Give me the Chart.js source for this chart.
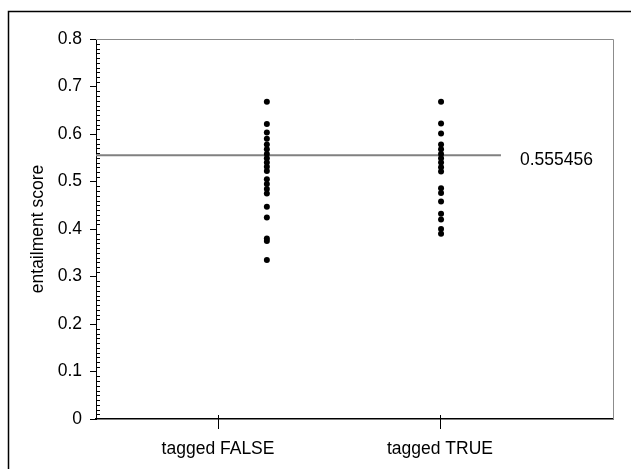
<!DOCTYPE html>
<html>
<head>
<meta charset="utf-8">
<script src="https://cdn.jsdelivr.net/npm/chart.js@4/dist/chart.umd.min.js"></script>
<style>
  html, body { margin: 0; padding: 0; background: #fff; overflow: hidden; }
  #wrap { width: 631px; height: 469px; position: relative; }
</style>
</head>
<body>
<div id="wrap"><canvas id="c" width="631" height="469"></canvas></div>
<script>
// Entailment scores, one column of points per tag value
const categories = ['tagged FALSE', 'tagged TRUE'];
const falseScores = [0.668, 0.621, 0.603, 0.590, 0.578, 0.568, 0.558, 0.549, 0.540, 0.531,
                     0.522, 0.505, 0.495, 0.484, 0.475, 0.447, 0.424, 0.380, 0.375, 0.335];
const trueScores = [0.668, 0.622, 0.601, 0.578, 0.568, 0.558, 0.549, 0.540, 0.530, 0.521,
                    0.486, 0.476, 0.458, 0.432, 0.420, 0.400, 0.390];
const meanScore = 0.555456;
const yTicks = [0, 0.1, 0.2, 0.3, 0.4, 0.5, 0.6, 0.7, 0.8];
const yTitle = 'entailment score';

const FONT = { family: '"Liberation Sans", Arial, sans-serif', size: 17.5 };
const FONT_CSS = '17.5px "Liberation Sans", Arial, sans-serif';

// x placement on the linear category axis (tick 1 = FALSE, tick 2 = TRUE)
const xMin = 0.45, xMax = 2.78;
const columnX = [1.22, 2.005];
const meanLineEnd = 2.275;

// Frame, minor ticks, category ticks and the mean label
const decorations = {
  id: 'decorations',
  afterDraw(chart) {
    const { ctx, chartArea: a, scales: { x, y } } = chart;
    ctx.save();
    // plot area border (top and right)
    ctx.strokeStyle = '#8c8c8c';
    ctx.lineWidth = 1;
    ctx.beginPath();
    ctx.moveTo(a.left, a.top + 0.5);
    ctx.lineTo(a.right + 0.5, a.top + 0.5);
    ctx.lineTo(a.right + 0.5, a.bottom);
    ctx.stroke();

    // minor ticks on the value axis, every 0.01, pointing inward
    ctx.strokeStyle = '#000';
    ctx.beginPath();
    for (let i = 0; i <= 80; i++) {
      if (i % 10 === 0) continue;
      const py = Math.round(y.getPixelForValue(i / 100)) + 0.5;
      ctx.moveTo(a.left, py);
      ctx.lineTo(a.left + 4, py);
    }
    ctx.stroke();

    // category tick marks crossing the axis
    ctx.beginPath();
    categories.forEach((_, i) => {
      const px = Math.round(x.getPixelForValue(i + 1)) + 0.5;
      ctx.moveTo(px, a.bottom - 4);
      ctx.lineTo(px, a.bottom + 10);
    });
    ctx.stroke();

    // mean label
    ctx.fillStyle = '#000';
    ctx.font = FONT_CSS;
    ctx.textAlign = 'left';
    ctx.textBaseline = 'middle';
    ctx.fillText(String(meanScore), x.getPixelForValue(meanLineEnd) + 19, y.getPixelForValue(meanScore) + 5);

    // outer frame
    ctx.strokeStyle = '#000';
    ctx.lineWidth = 1.5;
    ctx.beginPath();
    ctx.moveTo(8.5, chart.height);
    ctx.lineTo(8.5, 11.5);
    ctx.lineTo(chart.width, 11.5);
    ctx.stroke();
    ctx.restore();
  }
};

const pointStyle = {
  type: 'scatter',
  backgroundColor: '#000',
  borderColor: '#000',
  borderWidth: 0,
  pointRadius: 3,
  pointHoverRadius: 3,
  order: 0
};

new Chart(document.getElementById('c'), {
  type: 'scatter',
  data: {
    datasets: [
      {
        type: 'line',
        label: 'mean',
        data: [{ x: xMin, y: meanScore }, { x: meanLineEnd, y: meanScore }],
        borderColor: '#808080',
        borderWidth: 2,
        pointRadius: 0,
        fill: false,
        order: 2
      },
      Object.assign({ label: categories[0], data: falseScores.map(v => ({ x: columnX[0], y: v })) }, pointStyle),
      Object.assign({ label: categories[1], data: trueScores.map(v => ({ x: columnX[1], y: v })) }, pointStyle)
    ]
  },
  options: {
    responsive: false,
    devicePixelRatio: 1,
    animation: false,
    layout: { padding: { left: 0, top: 39, right: 18, bottom: 0 } },
    plugins: { legend: { display: false }, tooltip: { enabled: false } },
    scales: {
      x: {
        type: 'linear',
        min: xMin,
        max: xMax,
        afterBuildTicks: s => { s.ticks = categories.map((_, i) => ({ value: i + 1 })); },
        afterFit: s => { s.height = 50; },
        ticks: {
          callback: v => categories[v - 1],
          font: FONT,
          color: '#000',
          padding: 20,
          maxRotation: 0,
          autoSkip: false
        },
        grid: { display: false, drawTicks: false },
        border: { display: true, color: '#000', width: 1.5 }
      },
      y: {
        type: 'linear',
        min: 0,
        max: 0.8,
        afterBuildTicks: s => { s.ticks = yTicks.map(v => ({ value: v })); },
        afterFit: s => { s.width = 96; },
        ticks: {
          callback: v => String(+v.toFixed(1)),
          font: FONT,
          color: '#000',
          padding: 8
        },
        grid: { display: true, drawOnChartArea: false, drawTicks: true, tickLength: 6, color: '#000', lineWidth: 1 },
        border: { display: true, color: '#000', width: 1 },
        title: { display: true, text: yTitle, font: FONT, color: '#000', padding: { top: 28, bottom: 0 } }
      }
    }
  },
  plugins: [decorations]
});
</script>
</body>
</html>
